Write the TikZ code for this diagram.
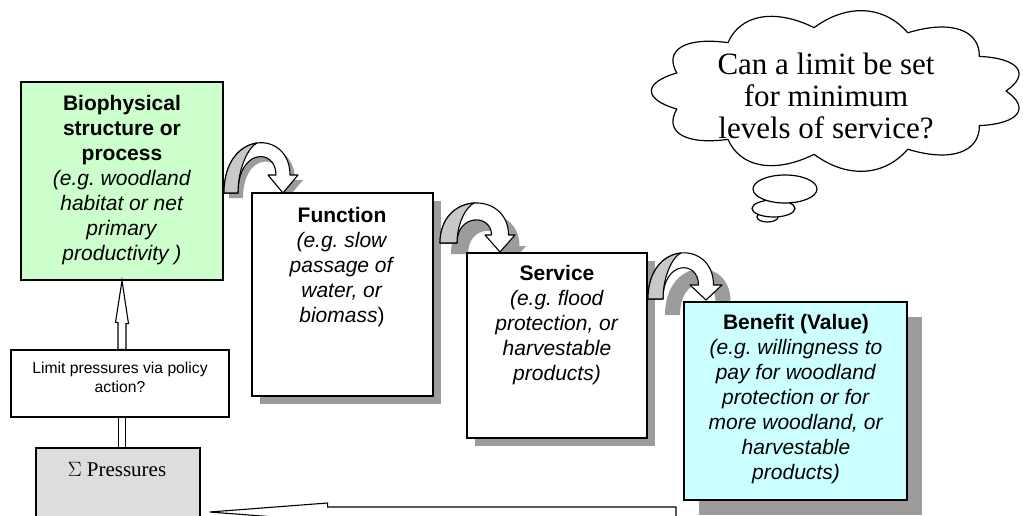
\documentclass[tikz,border=0pt]{standalone}
\usepackage{fontspec}
\setmainfont{Liberation Sans}
\newfontfamily\seriffont{Liberation Serif}
\usetikzlibrary{shapes.geometric,shadows,backgrounds,calc}
\frenchspacing
\definecolor{biogreen}{HTML}{CCFFCC}
\definecolor{benecyan}{HTML}{CCFFFF}
\definecolor{pressgray}{HTML}{DDDDDD}
\definecolor{shadowgray}{HTML}{9C9C9C}
\definecolor{undergray}{HTML}{C8C8C8}
% #1 outer left x, #2 band width, #3 base y, #4 top y, #5 tip x, #6 head base y, #7 tip y, #8 head half width, #9 shadow shift
\newcommand\curvedarrow[9]{%
 \pgfmathsetmacro\caS{#2/2}%
 \pgfmathsetmacro\caCo{(8*#4-#3-#6)/6}%
 \pgfmathsetmacro\caCi{(8*(#4+#2)-#3-#6)/6}%
 \pgfmathsetmacro\caR{#5+\caS}%
 \pgfmathsetmacro\caRi{#5-\caS}%
 \pgfmathsetmacro\caLi{#1+#2}%
 \pgfmathsetmacro\caHr{#5+#8}%
 \pgfmathsetmacro\caHl{#5-#8}%
 \pgfmathsetmacro\caQy{(#3+\caCo)/2}%
 \pgfmathsetmacro\caPx{(3*#1+\caR)/4}%
 \pgfmathsetmacro\caPy{(#3+3*\caCo)/4}%
 \pgfmathsetmacro\caMx{(#1+\caR)/2}%
 \pgfmathsetmacro\caMy{(#3+6*\caCo+#6)/8}%
 \pgfmathsetmacro\caAx{\caMx-0.45*(\caMx-\caLi)}%
 \pgfmathsetmacro\caAy{\caMy+0.08*(#3-\caMy)}%
 \pgfmathsetmacro\caBy{\caMy+0.5*(#3-\caMy)}%
 \def\caband{(#1,#3) .. controls (#1,\caCo) and (\caR,\caCo) .. (\caR,#6) -- (\caHr,#6) -- (#5,#7) -- (\caHl,#6) -- (\caRi,#6) .. controls (\caRi,\caCi) and (\caLi,\caCi) .. (\caLi,#3) -- cycle}%
 \begin{scope}[on background layer]
   \fill[shadowgray, shift={(#9)}] \caband;
 \end{scope}
 \draw[arrowline, fill=white] \caband;
 \draw[arrowline, fill=undergray] (#1,#3) .. controls (#1,\caQy) and (\caPx,\caPy) .. (\caMx,\caMy) .. controls (\caAx,\caAy) and (\caLi,\caBy) .. (\caLi,#3) -- cycle;
}
\begin{document}
\begin{tikzpicture}[x=1pt,y=-1pt,
  box/.style={draw, line width=1.3pt, inner sep=0pt, rectangle},
  shadowed/.style={drop shadow={shadow xshift=#1, shadow yshift=-#1, fill=shadowgray, opacity=1}},
  txt/.style={inner sep=0pt, align=center, anchor=north, font=\fontsize{21}{25}\selectfont},
  arrowline/.style={draw, line width=1.1pt, line join=round},
  hollow/.style={draw, fill=white, line width=1.1pt, line join=miter},
  conline/.style={draw, line width=1.1pt},
  bubble/.style={ellipse, draw, fill=white, line width=1.2pt, inner sep=0pt}]
\useasboundingbox (0,0) rectangle (1023,516);

% boxes
\node[box, fill=biogreen, minimum width=202, minimum height=198] (bio) at (122,181) {};
\node[box, fill=white, shadowed=8pt, minimum width=181, minimum height=203] (func) at (342.5,294.5) {};
\node[box, fill=white, shadowed=8pt, minimum width=180, minimum height=185] (serv) at (557,345.5) {};
\node[box, fill=benecyan, shadowed=15pt, minimum width=223, minimum height=198] (bene) at (795.5,401) {};
\node[box, fill=white, minimum width=218, minimum height=67] (limit) at (120,383.5) {};
\node[box, fill=pressgray, minimum width=164, minimum height=82] (press) at (118,489) {};

% texts
\node[txt] (biot) at (122,95) {\textbf{Biophysical}\\\textbf{structure or}\\\textbf{process}\\\textit{(e.g. woodland}\\\textit{habitat or net}\\\textit{primary}\\\textit{productivity )}};
\node[txt] (funct) at (342,207) {\textbf{Function}\\\textit{(e.g. slow}\\\textit{passage of}\\\textit{water, or}\\\textit{biomass})};
\node[txt] (servt) at (557,265) {\textbf{Service}\\\textit{(e.g. flood}\\\textit{protection, or}\\\textit{harvestable}\\\textit{products)}};
\node[txt] (benet) at (796,314) {\textbf{Benefit (Value)}\\\textit{(e.g. willingness to}\\\textit{pay for woodland}\\\textit{protection or for}\\\textit{more woodland, or}\\\textit{harvestable}\\\textit{products)}};
\node[txt, font=\fontsize{15.7}{18.5}\selectfont] (limitt) at (120,362) {Limit pressures via policy\\action?};
\node[txt, font=\seriffont\fontsize{21}{25}\selectfont] (presst) at (117,462) {$\Sigma$ Pressures};

% curved arrows
\curvedarrow{224}{14}{193}{143}{283}{175}{193}{15}{5,5}
\curvedarrow{440}{17}{243}{203}{500}{235}{252}{15}{11,11}
\curvedarrow{648}{15}{299}{253}{706}{285}{300}{16}{17,16}

% vertical connectors
\draw[hollow] (bio.south) -- ++(6.5,43) -- ++(-2.5,0) -- ($(limit.north -| bio.south)+(4,0)$) -- ++(-8,0) -- ++(0,-27) -- ++(-2.5,0) -- cycle;
\draw[conline] ($(limit.south -| bio.south)+(-3.5,0)$) -- ($(press.north -| bio.south)+(-3.5,0)$);
\draw[conline] ($(limit.south -| bio.south)+(3.5,0)$) -- ($(press.north -| bio.south)+(3.5,0)$);

% bottom feedback arrow
\coordinate (tailR) at (676,512);
\coordinate (tipL) at ($(press.east |- tailR)+(9,0)$);
\draw[hollow] (tipL) -- ++(118,-9) -- ++(0,4) -- ([yshift=5pt]tailR) -- ([yshift=-5pt]tailR) -- ++(-349,0) -- ++(0,4) -- cycle;

% thought bubbles
\node[bubble, minimum width=21, minimum height=10] (th3) at (767.5,217) {};
\node[bubble, minimum width=43, minimum height=17] (th2) at (773.5,208.5) {};
\node[bubble, minimum width=64, minimum height=28] (th1) at (785,189) {};
% cloud outline
\draw[line width=1.2pt, fill=white, line join=round] ({838+168},{91})
  \foreach \k [evaluate=\k as \ta using {\k*32.7273}] in {0,...,10} {
    .. controls ({838+196*cos(\ta+10.909)},{91+88*sin(\ta+10.909)})
            and ({838+196*cos(\ta+21.818)},{91+88*sin(\ta+21.818)})
    .. ({838+168*cos(\ta+32.7273)},{91+64*sin(\ta+32.7273)})
  } -- cycle;
\node[inner sep=0pt, align=center, font=\seriffont\fontsize{31}{32}\selectfont] (cloudt) at (826,96) {Can a limit be set\\for minimum\\levels of service?};
\end{tikzpicture}
\end{document}
